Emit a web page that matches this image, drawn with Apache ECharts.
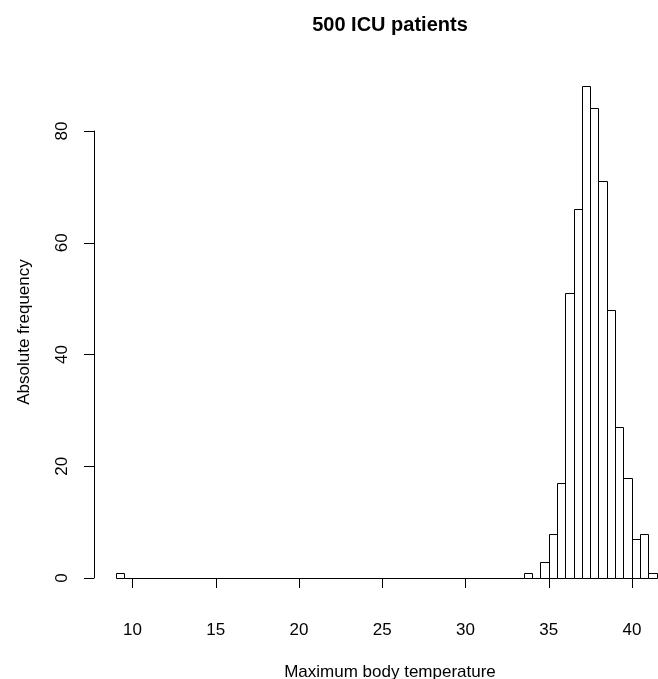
<!DOCTYPE html>
<html>
<head>
<meta charset="utf-8">
<script src="https://cdn.jsdelivr.net/npm/echarts@6/dist/echarts.min.js"></script>
<style>
html,body{margin:0;padding:0;background:#fff;}
#chart{width:658px;height:679px;}
</style>
</head>
<body>
<div id="chart"></div>
<script>
// Histogram bin edges (width 0.5) and counts
const breaks = [9, 9.5, 10, 10.5, 11, 11.5, 12, 12.5, 13, 13.5, 14, 14.5, 15, 15.5, 16, 16.5,
  17, 17.5, 18, 18.5, 19, 19.5, 20, 20.5, 21, 21.5, 22, 22.5, 23, 23.5, 24, 24.5,
  25, 25.5, 26, 26.5, 27, 27.5, 28, 28.5, 29, 29.5, 30, 30.5, 31, 31.5, 32, 32.5,
  33, 33.5, 34, 34.5, 35, 35.5, 36, 36.5, 37, 37.5, 38, 38.5, 39, 39.5, 40, 40.5, 41, 41.5];
const counts = [1, 0, 0, 0, 0, 0, 0, 0, 0, 0, 0, 0, 0, 0, 0, 0,
  0, 0, 0, 0, 0, 0, 0, 0, 0, 0, 0, 0, 0, 0, 0, 0,
  0, 0, 0, 0, 0, 0, 0, 0, 0, 0, 0, 0, 0, 0, 0, 0,
  0, 1, 0, 3, 8, 17, 51, 66, 88, 84, 71, 48, 27, 18, 7, 8, 1];
const xTicks = [10, 15, 20, 25, 30, 35, 40];
const yTicks = [0, 20, 40, 60, 80];

const titleText = '500 ICU patients';
const xTitle = 'Maximum body temperature';
const yTitle = 'Absolute frequency';

const FONT = '"Liberation Sans", Arial, Helvetica, sans-serif';

const binData = counts.map((c, i) => [breaks[i], breaks[i + 1], c]);

const chart = echarts.init(document.getElementById('chart'), null, {renderer: 'canvas'});

chart.setOption({
  animation: false,
  backgroundColor: '#ffffff',
  grid: [
    {left: 94, top: 66, width: 564, height: 532},
    {left: 132.5, top: 131, width: 499.5, height: 447}
  ],
  xAxis: [
    {gridIndex: 0, type: 'value', min: 7.7, max: 41.574, show: false},
    {gridIndex: 1, type: 'value', min: xTicks[0], max: xTicks[xTicks.length - 1], interval: 5,
     position: 'bottom', offset: 20,
     axisLine: {show: true, lineStyle: {color: '#000', width: 1}},
     axisTick: {show: true, length: 10, inside: false, lineStyle: {color: '#000', width: 1}},
     axisLabel: {show: true, margin: 24, color: '#000', fontSize: 17, fontFamily: FONT,
                 showMinLabel: true, showMaxLabel: true},
     splitLine: {show: false}}
  ],
  yAxis: [
    {gridIndex: 0, type: 'value', min: -3.52, max: 91.52, show: false},
    {gridIndex: 1, type: 'value', min: yTicks[0], max: yTicks[yTicks.length - 1], interval: 20,
     position: 'left', offset: 38.5,
     axisLine: {show: true, lineStyle: {color: '#000', width: 1}},
     axisTick: {show: true, length: 10, inside: false, lineStyle: {color: '#000', width: 1}},
     axisLabel: {show: true, rotate: 90, margin: 23, color: '#000', fontSize: 17, fontFamily: FONT,
                 showMinLabel: true, showMaxLabel: true},
     splitLine: {show: false}}
  ],
  series: [
    {
      type: 'custom',
      xAxisIndex: 0,
      yAxisIndex: 0,
      data: binData,
      clip: false,
      renderItem: function (params, api) {
        const p0 = api.coord([api.value(0), api.value(2)]);
        const p1 = api.coord([api.value(1), 0]);
        const x0 = Math.round(p0[0]) + 0.5;
        const x1 = Math.round(p1[0]) + 0.5;
        const y0 = Math.round(p0[1]) + 0.5;
        const y1 = Math.round(p1[1]) + 0.5;
        return {
          type: 'rect',
          shape: {x: x0, y: y0, width: x1 - x0, height: y1 - y0},
          style: {fill: '#ffffff', stroke: '#000000', lineWidth: 1}
        };
      }
    },
    {type: 'line', xAxisIndex: 1, yAxisIndex: 1, data: [], silent: true}
  ],
  graphic: [
    {type: 'text', x: 390, y: 25, silent: true,
     style: {text: titleText, font: 'bold 20px ' + FONT, fill: '#000', align: 'center', verticalAlign: 'middle'}},
    {type: 'text', x: 390, y: 672, silent: true,
     style: {text: xTitle, font: '17px ' + FONT, fill: '#000', align: 'center', verticalAlign: 'middle'}},
    {type: 'text', x: 24, y: 332, rotation: Math.PI / 2, silent: true,
     style: {text: yTitle, font: '17px ' + FONT, fill: '#000', align: 'center', verticalAlign: 'middle'}}
  ]
});
</script>
</body>
</html>
